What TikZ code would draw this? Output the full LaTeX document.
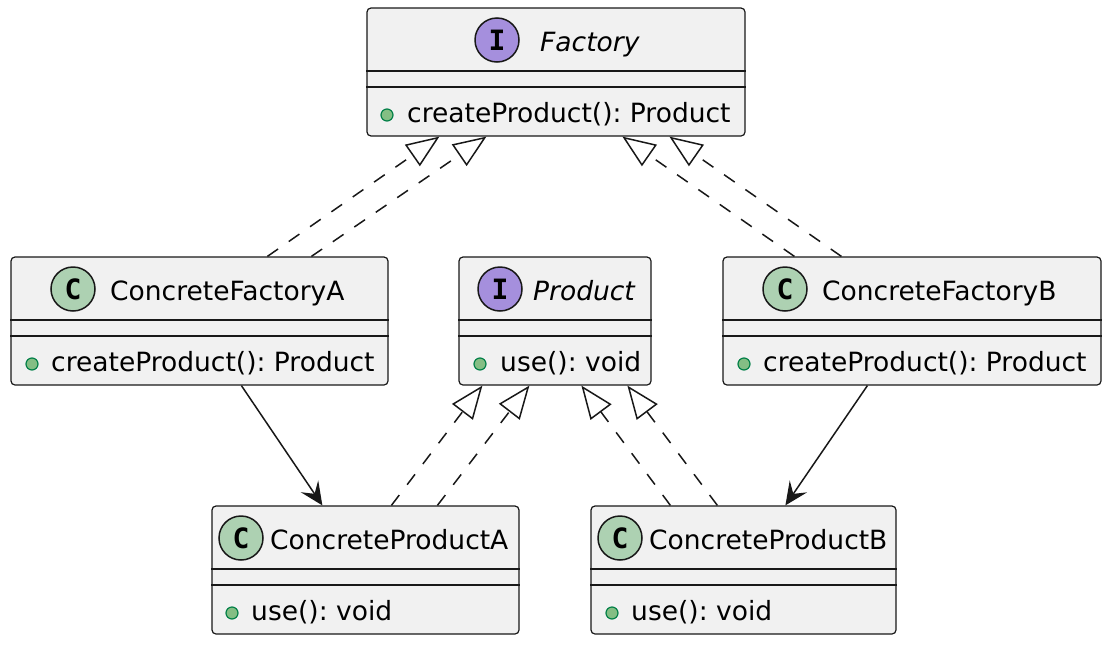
\documentclass[tikz,border=0pt]{standalone}
\usepackage{fontspec}
\setmainfont{DejaVu Sans}
\setmonofont{DejaVu Sans Mono}
\usepackage{tikz}
\usetikzlibrary{arrows.meta}
\definecolor{boxfill}{HTML}{F1F1F1}
\definecolor{boxline}{HTML}{181818}
\definecolor{ifacefill}{HTML}{A58FDD}
\definecolor{classfill}{HTML}{ADD1B2}
\definecolor{dotfill}{HTML}{84BE84}
\definecolor{dotline}{HTML}{038048}
\tikzstyle{umlbox} = [draw=boxline, fill=boxfill, line width=1.2pt, rounded corners=4pt, minimum height=128pt, inner sep=0pt]
\tikzstyle{iface} = [circle, draw=boxline, fill=ifacefill, line width=1.5pt, minimum size=44pt, inner sep=0pt, font=\fontsize{28}{28}\selectfont\ttfamily\bfseries]
\tikzstyle{cls} = [circle, draw=boxline, fill=classfill, line width=1.5pt, minimum size=44pt, inner sep=0pt, font=\fontsize{28}{28}\selectfont\ttfamily\bfseries]
\tikzstyle{dot} = [circle, draw=dotline, fill=dotfill, line width=1.2pt, minimum size=12pt, inner sep=0pt]
\tikzstyle{txt} = [anchor=base west, inner sep=0pt, font=\fontsize{26.5}{30}\selectfont]
\tikzstyle{ititle} = [txt, font=\fontsize{26.5}{30}\selectfont\itshape]
\tikzstyle{sep} = [draw=boxline, line width=1.2pt]
\tikzstyle{realize} = [line width=1.5pt, draw=boxline, dash pattern=on 13pt off 13pt, -{Triangle[open, length=33pt, width=26pt, line width=1.5pt]}]
\tikzstyle{assoc} = [line width=1.5pt, draw=boxline, -{Stealth[length=23pt, width=21pt, inset=9pt]}]

\begin{document}
\frenchspacing
\begin{tikzpicture}[x=1pt, y=-1pt]
  \useasboundingbox (0,0) rectangle (1112,646);
  \node (fac) at (556,72) [umlbox, minimum width=378pt] {};
  \node (cfa) at (199.5,321) [umlbox, minimum width=377pt] {};
  \node (prod) at (555,321) [umlbox, minimum width=192pt] {};
  \node (cfb) at (912,321) [umlbox, minimum width=378pt] {};
  \node (cpa) at (365.5,570) [umlbox, minimum width=307pt] {};
  \node (cpb) at (743.5,570) [umlbox, minimum width=305pt] {};
  \foreach \b in {fac,cfa,prod,cfb,cpa,cpb} {
    \draw [sep] ([yshift=-63.5pt]\b.north west) -- ([yshift=-63.5pt]\b.north east);
    \draw [sep] ([yshift=-79.5pt]\b.north west) -- ([yshift=-79.5pt]\b.north east);
  }
  \node (fac-icon) at (497,40) [iface] {I};
  \node (fac-name) at (540,51) [ititle] {Factory};
  \node (fac-dot) at (387,115) [dot] {};
  \node (fac-op) at (407,122) [txt] {createProduct(): Product};
  \node (cfa-icon) at (73,289) [cls] {C};
  \node (cfa-name) at (110,300) [txt] {ConcreteFactoryA};
  \node (cfa-dot) at (32,364) [dot] {};
  \node (cfa-op) at (51,371) [txt] {createProduct(): Product};
  \node (prod-icon) at (500,289) [iface] {I};
  \node (prod-name) at (533,300) [ititle] {Product};
  \node (prod-dot) at (480,364) [dot] {};
  \node (prod-op) at (500,371) [txt] {use(): void};
  \node (cfb-icon) at (785,289) [cls] {C};
  \node (cfb-name) at (822,300) [txt] {ConcreteFactoryB};
  \node (cfb-dot) at (744,364) [dot] {};
  \node (cfb-op) at (763,371) [txt] {createProduct(): Product};
  \node (cpa-icon) at (241,538) [cls] {C};
  \node (cpa-name) at (270,549) [txt] {ConcreteProductA};
  \node (cpa-dot) at (232,613) [dot] {};
  \node (cpa-op) at (251,620) [txt] {use(): void};
  \node (cpb-icon) at (620,538) [cls] {C};
  \node (cpb-name) at (649,549) [txt] {ConcreteProductB};
  \node (cpb-dot) at (612,613) [dot] {};
  \node (cpb-op) at (631,620) [txt] {use(): void};
  \draw [realize] ([xshift=257pt]cfa.north west) -- ([xshift=73pt]fac.south west);
  \draw [realize] ([xshift=301pt]cfa.north west) -- ([xshift=120pt]fac.south west);
  \draw [realize] ([xshift=72pt]cfb.north west) -- ([xshift=256pt]fac.south west);
  \draw [realize] ([xshift=119pt]cfb.north west) -- ([xshift=303pt]fac.south west);
  \draw [realize] ([xshift=180pt]cpa.north west) -- ([xshift=24pt]prod.south west);
  \draw [realize] ([xshift=226pt]cpa.north west) -- ([xshift=71pt]prod.south west);
  \draw [realize] ([xshift=80pt]cpb.north west) -- ([xshift=123pt]prod.south west);
  \draw [realize] ([xshift=127pt]cpb.north west) -- ([xshift=169pt]prod.south west);
  \draw [assoc] ([xshift=231pt]cfa.south west) -- ([xshift=111pt]cpa.north west);
  \draw [assoc] ([xshift=145pt]cfb.south west) -- ([xshift=195pt]cpb.north west);
\end{tikzpicture}
\end{document}
